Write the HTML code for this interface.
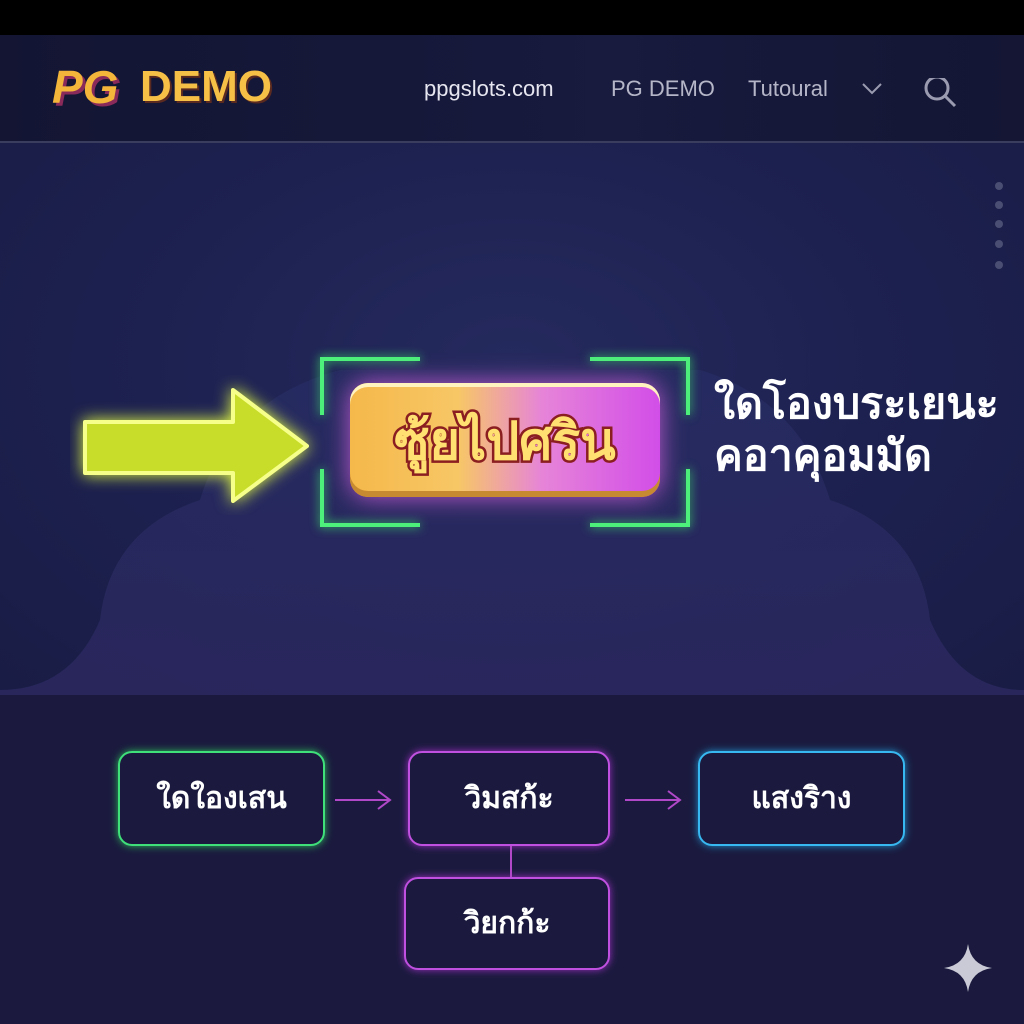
<!DOCTYPE html>
<html><head><meta charset="utf-8"><style>
*{margin:0;padding:0;box-sizing:border-box}
body{width:1024px;height:1024px;overflow:hidden;background:#1a1b3d;font-family:"Liberation Sans","DejaVu Sans",sans-serif;position:relative}
.abs{position:absolute}
.top{left:0;top:0;width:1024px;height:35px;background:#000}
.hdr{left:0;top:35px;width:1024px;height:107px;background:linear-gradient(90deg,#131533,#181a3e 60%,#141634)}
.hl{left:0;top:141px;width:1024px;height:2px;background:#3a3d5e}
.main{left:0;top:143px;width:1024px;height:552px;background:radial-gradient(ellipse at 50% 40%,#252a5e 0%,#1d2150 50%,#191c44 100%)}
.cloud{left:0;top:360px;width:1024px;height:335px}
.bot{left:0;top:695px;width:1024px;height:329px;background:#1b1a3e}
.nav{color:#c9cad8;font-size:22px;top:76px}
.box{position:absolute;border-radius:14px;border:2.5px solid;color:#fff;font-size:30px;font-weight:bold;display:flex;align-items:center;justify-content:center;font-family:"Liberation Sans","DejaVu Sans",sans-serif}
.br{position:absolute;border-color:#4cf07a;border-style:solid;width:100px;height:58px;filter:drop-shadow(0 0 5px #3be06a)}
</style></head><body>
<div class="abs top"></div>
<div class="abs hdr"></div>
<div class="abs hl"></div>
<div class="abs" style="left:52px;top:60px;font-size:46px;font-weight:bold;font-style:italic;color:#f3b53a;text-shadow:3px 3px 0 #8a2a5a">PG</div>
<div class="abs" style="left:140px;top:62px;font-size:44px;font-weight:bold;color:#f6c047;text-shadow:2px 2px 0 #5a2a20">DEMO</div>
<div class="abs nav" style="left:424px;color:#e6e6f0">ppgslots.com</div>
<div class="abs nav" style="left:611px;color:#b5b6c8">PG DEMO</div>
<div class="abs nav" style="left:748px;color:#b5b6c8">Tutoural</div>
<svg class="abs" style="left:860px;top:78px" width="110" height="30"><polyline points="3,6 12,15 21,6" fill="none" stroke="#9a9bb0" stroke-width="2"/><circle cx="77" cy="10" r="11" fill="none" stroke="#9a9bb0" stroke-width="3"/><line x1="85" y1="18" x2="95" y2="28" stroke="#9a9bb0" stroke-width="3"/></svg>
<div class="abs main"></div>
<svg class="abs cloud" width="1024" height="335" viewBox="0 0 1024 335">
<defs><linearGradient id="cg" x1="0" y1="0" x2="0" y2="1"><stop offset="0" stop-color="#262c62"/><stop offset="1" stop-color="#2c2860"/></linearGradient></defs>
<path d="M0,330 Q70,330 100,260 Q110,170 200,140 Q230,40 340,10 L700,10 Q800,40 830,140 Q920,170 930,260 Q960,330 1024,330 L1024,335 L0,335Z" fill="url(#cg)" opacity="0.8"/>
</svg>
<svg class="abs" style="left:990px;top:180px" width="20" height="95"><g fill="#4a4e72"><circle cx="9" cy="6" r="4"/><circle cx="9" cy="25" r="4"/><circle cx="9" cy="44" r="4"/><circle cx="9" cy="64" r="4"/><circle cx="9" cy="85" r="4"/></g></svg>
<svg class="abs" style="left:70px;top:375px" width="260" height="140">
<polygon points="15,47 163,47 163,15 237,71 163,126 163,98 15,98" fill="#c7dd2a" stroke="#f6ff8a" stroke-width="4" stroke-linejoin="round" style="filter:drop-shadow(0 0 8px #e6ff40)"/>
</svg>
<div class="br" style="left:320px;top:357px;border-width:4px 0 0 4px"></div>
<div class="br" style="left:590px;top:357px;border-width:4px 4px 0 0"></div>
<div class="br" style="left:320px;top:469px;border-width:0 0 4px 4px"></div>
<div class="br" style="left:590px;top:469px;border-width:0 4px 4px 0"></div>
<div class="abs" style="left:350px;top:383px;width:310px;height:114px;border-radius:18px;background:linear-gradient(90deg,#f5b84a,#f7c766 35%,#e684d8 62%,#d24ee8);box-shadow:0 0 25px #c05ad0,inset 0 4px 0 #fff3c0,inset 0 -6px 0 #c88a30;display:flex;align-items:center;justify-content:center;font-size:52px;font-weight:bold;color:#ffe070;-webkit-text-stroke:5px #8a1e20;paint-order:stroke fill;font-family:'Liberation Sans','DejaVu Sans',sans-serif">ซู้ยไปศริน</div>
<div class="abs" style="left:714px;top:378px;color:#fff;font-size:43px;font-weight:bold;line-height:52px">ใดโองบระเยนะ<br>คอาคุอมมัด</div>
<div class="abs bot"></div>
<div class="box" style="left:118px;top:751px;width:207px;height:95px;border-color:#3fe07a;box-shadow:0 0 8px #2cb85a">ใดใองเสน</div>
<div class="box" style="left:408px;top:751px;width:202px;height:95px;border-color:#c050e0;box-shadow:0 0 8px #9a30c0">วิมสก้ะ</div>
<div class="box" style="left:698px;top:751px;width:207px;height:95px;border-color:#38b8f0;box-shadow:0 0 8px #2090c8">แสงริาง</div>
<div class="box" style="left:404px;top:877px;width:206px;height:93px;border-color:#c050e0;box-shadow:0 0 8px #9a30c0">วิยกก้ะ</div>
<svg class="abs" style="left:0;top:780px" width="1024" height="100">
<g stroke="#b048c8" stroke-width="2" fill="none"><line x1="335" y1="20" x2="390" y2="20"/><polyline points="378,11 390,20 378,29"/><line x1="625" y1="20" x2="680" y2="20"/><polyline points="668,11 680,20 668,29"/><line x1="511" y1="66" x2="511" y2="97"/></g>
</svg>
<svg class="abs" style="left:942px;top:942px" width="52" height="52"><path d="M26,2 Q29,23 50,26 Q29,29 26,50 Q23,29 2,26 Q23,23 26,2Z" fill="#c9cad6"/></svg>
</body></html>
